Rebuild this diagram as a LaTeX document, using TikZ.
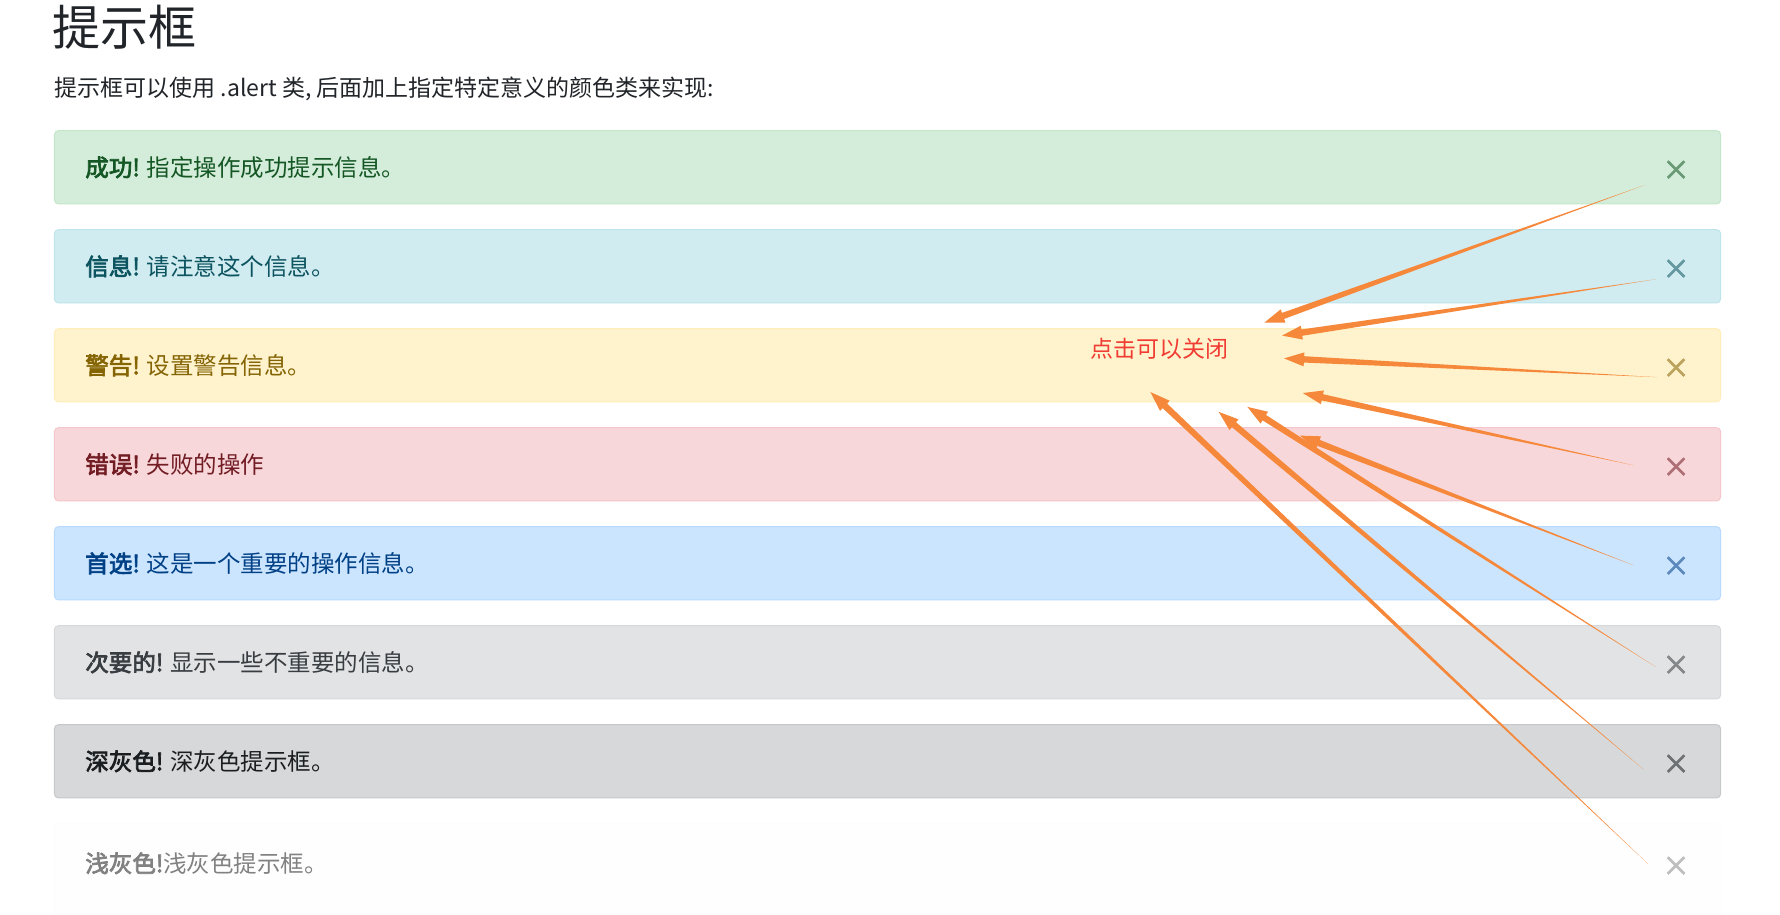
\documentclass[tikz,border=0pt]{standalone}
\usepackage{fontspec}
\setmainfont[AutoFakeBold=3]{Noto Sans CJK SC}
\usetikzlibrary{calc}
\definecolor{arr}{RGB}{245,136,58}
\tikzset{
  box/.style={rounded corners=4pt,line width=1pt},
  msg/.style={anchor=west,font=\fontsize{23.5}{28}\selectfont,inner sep=0pt},
  cls/.style={font=\fontsize{27}{27}\selectfont\bfseries,inner sep=0pt}
}
\newcommand\taparr[2]{%
  \fill[arr] (#1) -- ($($(#2)!20pt!(#1)$)!3.2pt!90:(#2)$) -- ($($(#2)!20pt!(#1)$)!7pt!90:(#2)$) -- (#2)
    -- ($($(#2)!20pt!(#1)$)!7pt!-90:(#2)$) -- ($($(#2)!20pt!(#1)$)!3.2pt!-90:(#2)$) -- cycle;}
\begin{document}
\begin{tikzpicture}[x=0.99pt,y=-0.99pt]
\useasboundingbox[fill=white] (0,0) rectangle (1798,924);
\node[anchor=base west,inner sep=0pt,font=\fontsize{48}{50}\selectfont,text={rgb,255:red,33;green,37;blue,41}] (title) at (53,46) {提示框};
\node[anchor=west,inner sep=0pt,font=\fontsize{23}{26}\selectfont,text={rgb,255:red,33;green,37;blue,41}] (sub) at (55,90) {提示框可以使用 .alert 类, 后面加上指定特定意义的颜色类来实现:};
\def\mkbox#1#2#3#4#5#6{%
  \filldraw[box,fill=#2,draw=#3] (55,{132+100*#1}) rectangle (1738,{206+100*#1});
  \node[msg,text=#4] (m#1) at (86,{169+100*#1}) {\textbf{#5} #6};
  \node[cls,text=#4!55!#2] (x#1) at (1693,{172+100*#1}) {×};}
\definecolor{b0}{HTML}{d4edda}\definecolor{d0}{HTML}{c3e6cb}\definecolor{t0}{HTML}{155724}
\definecolor{b1}{HTML}{d1ecf1}\definecolor{d1}{HTML}{bee5eb}\definecolor{t1}{HTML}{0c5460}
\definecolor{b2}{HTML}{fff3cd}\definecolor{d2}{HTML}{ffeeba}\definecolor{t2}{HTML}{856404}
\definecolor{b3}{HTML}{f8d7da}\definecolor{d3}{HTML}{f5c6cb}\definecolor{t3}{HTML}{721c24}
\definecolor{b4}{HTML}{cce5ff}\definecolor{d4}{HTML}{b8daff}\definecolor{t4}{HTML}{004085}
\definecolor{b5}{HTML}{e2e3e5}\definecolor{d5}{HTML}{d6d8db}\definecolor{t5}{HTML}{383d41}
\definecolor{b6}{HTML}{d6d8d9}\definecolor{d6}{HTML}{c6c8ca}\definecolor{t6}{HTML}{1b1e21}
\definecolor{b7}{HTML}{fefefe}\definecolor{d7}{HTML}{fdfdfe}\definecolor{t7}{HTML}{818182}
\mkbox{0}{b0}{d0}{t0}{成功!}{指定操作成功提示信息。}
\mkbox{1}{b1}{d1}{t1}{信息!}{请注意这个信息。}
\mkbox{2}{b2}{d2}{t2}{警告!}{设置警告信息。}
\mkbox{3}{b3}{d3}{t3}{错误!}{失败的操作}
\mkbox{4}{b4}{d4}{t4}{首选!}{这是一个重要的操作信息。}
\mkbox{5}{b5}{d5}{t5}{次要的!}{显示一些不重要的信息。}
\mkbox{6}{b6}{d6}{t6}{深灰色!}{深灰色提示框。}
\filldraw[box,fill=b7,draw=d7] (55,832) rectangle (1738,940);
\node[msg,text=t7] (m7) at (86,872) {\textbf{浅灰色!}浅灰色提示框。};
\node[cls,text=black!25] (x7) at (1693,875) {×};
\node[inner sep=0pt,font=\fontsize{23}{26}\selectfont,text={rgb,255:red,240;green,60;blue,50}] (lbl) at (1171,352) {点击可以关闭};
\coordinate (t0) at (1661,187);\coordinate (h0) at (1277,326);
\coordinate (t1) at (1673,282);\coordinate (h1) at (1295,339);
\coordinate (t2) at (1674,381);\coordinate (h2) at (1297,362);
\coordinate (t3) at (1650,470);\coordinate (h3) at (1316,397);
\coordinate (t4) at (1650,571);\coordinate (h4) at (1313,440);
\coordinate (t5) at (1673,674);\coordinate (h5) at (1260,411);
\coordinate (t6) at (1660,777);\coordinate (h6) at (1231,416);
\coordinate (t7) at (1665,873);\coordinate (h7) at (1162,396);
\foreach \i in {0,...,7} {\taparr{t\i}{h\i}}
\end{tikzpicture}
\end{document}
